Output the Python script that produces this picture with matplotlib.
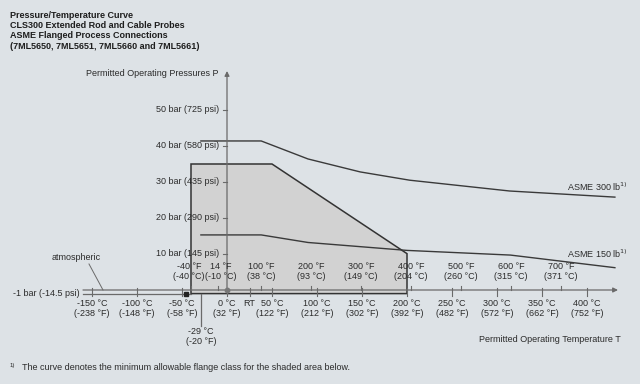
import matplotlib
matplotlib.use("Agg")
import matplotlib.pyplot as plt
from matplotlib.patches import Polygon

plt.rcParams['font.family'] = ['Liberation Sans', 'DejaVu Sans']

# ---- data ----
asme300_T = [-29, 38, 90, 148, 203, 314, 431]
asme300_P = [41.4, 41.4, 36.4, 32.8, 30.5, 27.5, 25.8]
asme150_T = [-29, 38, 90, 150, 200, 315, 431]
asme150_P = [15.3, 15.3, 13.2, 12.0, 11.0, 9.7, 6.2]
shade_T = [-40, -40, 50, 200, 200]
shade_P = [-1, 35, 35, 10.1, -1]

p_ticks = [10, 20, 30, 40, 50]
p_labels = ["10 bar (145 psi)", "20 bar (290 psi)", "30 bar (435 psi)",
            "40 bar (580 psi)", "50 bar (725 psi)"]
c_ticks = [-150, -100, -50, 0, 50, 100, 150, 200, 250, 300, 350, 400]
c_labels = ["-150 °C\n(-238 °F)", "-100 °C\n(-148 °F)", "-50 °C\n(-58 °F)",
            "0 °C\n(32 °F)", "50 °C\n(122 °F)", "100 °C\n(212 °F)",
            "150 °C\n(302 °F)", "200 °C\n(392 °F)", "250 °C\n(482 °F)",
            "300 °C\n(572 °F)", "350 °C\n(662 °F)", "400 °C\n(752 °F)"]
f_values = [-40, 14, 100, 200, 300, 400, 500, 600, 700]
f_labels = ["-40 °F\n(-40 °C)", "14 °F\n(-10 °C)", "100 °F\n(38 °C)",
            "200 °F\n(93 °C)", "300 °F\n(149 °C)", "400 °F\n(204 °C)",
            "500 °F\n(260 °C)", "600 °F\n(315 °C)", "700 °F\n(371 °C)"]
f_label_shift_px = [-2, 3, 0, 0, 0, 0, 0, 0, 0]
rt_T = 25
min_T = -29

# ---- figure / pixel mapping ----
W, H = 640, 384
X0PX, SX = 227.0, 0.9      # px of 0 °C, px per °C
Y0PX, SY = 290.0, 3.6      # px of 0 bar, px per bar

def px2x(px):
    return (px - X0PX) / SX

def py2y(py):
    return (Y0PX - py) / SY

bg = '#dde2e6'
fig = plt.figure(figsize=(6.4, 3.84), dpi=100, facecolor=bg)
ax = fig.add_axes([0, 0, 1, 1])
ax.set_facecolor(bg)
ax.set_xlim(px2x(0), px2x(W))
ax.set_ylim(py2y(H), py2y(0))
ax.axis('off')

txt = '#2b2b2b'
fs = 6.5
dark = '#3a3a3a'
axc = '#6a6a6a'

# shaded area
poly = Polygon(list(zip(shade_T, shade_P)), closed=True, facecolor='#d2d2d2',
               edgecolor='#333333', lw=1.1, zorder=2)
ax.add_patch(poly)

# curves
ax.plot(asme300_T, asme300_P, color=dark, lw=1.0, zorder=3)
ax.plot(asme150_T, asme150_P, color=dark, lw=1.0, zorder=3)

# y axis
ax.annotate('', xy=(0, py2y(71)), xytext=(0, 0),
            arrowprops=dict(arrowstyle='-|>', color=axc, lw=0.9,
                            mutation_scale=7, shrinkA=0, shrinkB=0), zorder=4)
for p, lab in zip(p_ticks, p_labels):
    ax.plot([px2x(223), 0], [p, p], color=axc, lw=0.8, zorder=4)
    ax.text(px2x(219), p, lab, ha='right', va='center', fontsize=fs, color=txt)

# x axis (0 bar) with arrow
ax.annotate('', xy=(px2x(618), 0), xytext=(px2x(83), 0),
            arrowprops=dict(arrowstyle='-|>', color=axc, lw=0.9,
                            mutation_scale=7, shrinkA=0, shrinkB=0), zorder=4)
# -1 bar line
ax.plot([px2x(83), -40], [-1, -1], color=axc, lw=0.9, zorder=4)
ax.plot([px2x(186)], [-1], marker='s', ms=2.2, color='#222222', zorder=5)
ax.plot([0], [0], marker='o', ms=3.2, color='#777777', zorder=5)
ax.text(px2x(80), -1, "-1 bar (-14.5 psi)", ha='right', va='center',
        fontsize=fs, color=txt)

# celsius ticks (down) and labels
for c, lab in zip(c_ticks, c_labels):
    ax.plot([c, c], [py2y(288), py2y(296)], color=axc, lw=0.8, zorder=4)
    ax.text(c, py2y(299), lab, ha='center', va='top', fontsize=fs,
            color=txt, linespacing=1.15)
ax.plot([rt_T, rt_T], [py2y(288), py2y(296)], color=axc, lw=0.8, zorder=4)
ax.text(rt_T, py2y(299), "RT", ha='center', va='top', fontsize=fs, color=txt)

# fahrenheit ticks (up) and labels
for f, lab, sh in zip(f_values, f_labels, f_label_shift_px):
    t = (f - 32) / 1.8
    ax.plot([t, t], [py2y(286), 0], color=axc, lw=0.8, zorder=4)
    ax.text(t + sh / SX, py2y(262), lab, ha='center', va='top', fontsize=fs,
            color=txt, linespacing=1.15, zorder=6)

# -29 °C marker line
ax.plot([min_T, min_T], [-1, py2y(326)], color=axc, lw=0.9, zorder=4)
ax.text(min_T, py2y(327), "-29 °C\n(-20 °F)", ha='center', va='top',
        fontsize=fs, color=txt, linespacing=1.15)

# atmospheric
ax.text(px2x(76), py2y(258), "atmospheric", ha='center', va='center',
        fontsize=fs, color=txt)
ax.plot([px2x(89), px2x(103)], [py2y(264), py2y(290)], color=axc, lw=0.7)

# curve labels
ax.text(px2x(628), py2y(187), "ASME 300 lb$^{1)}$", ha='right', va='center',
        fontsize=fs, color=txt)
ax.text(px2x(628), py2y(254), "ASME 150 lb$^{1)}$", ha='right', va='center',
        fontsize=fs, color=txt)

# axis titles
ax.text(px2x(218), py2y(73), "Permitted Operating Pressures P", ha='right',
        va='center', fontsize=fs, color=txt)
ax.text(px2x(621), py2y(339), "Permitted Operating Temperature T", ha='right',
        va='center', fontsize=fs, color=txt)

# title block
titles = ["Pressure/Temperature Curve", "CLS300 Extended Rod and Cable Probes",
          "ASME Flanged Process Connections",
          "(7ML5650, 7ML5651, 7ML5660 and 7ML5661)"]
for i, t in enumerate(titles):
    ax.text(px2x(10), py2y(15 + 10.4 * i), t, ha='left', va='center',
            fontsize=fs, fontweight='bold', color='#1e1e1e')

# footnote
ax.text(px2x(10), py2y(366), "1)", ha='left', va='center', fontsize=4.3,
        color=txt)
ax.text(px2x(22), py2y(368), "The curve denotes the minimum allowable flange "
        "class for the shaded area below.", ha='left', va='center',
        fontsize=fs, color=txt)

fig.savefig("out.png", dpi=100, facecolor=bg)
